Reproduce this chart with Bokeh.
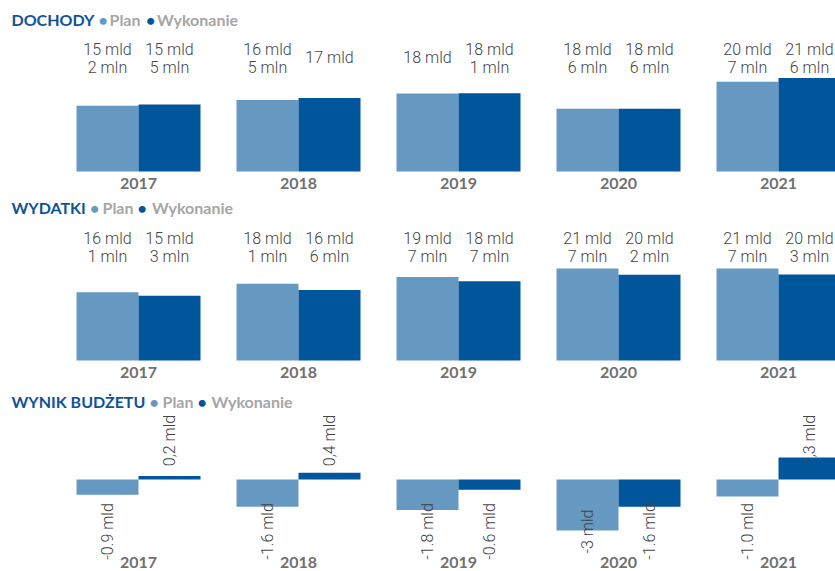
import math
from bokeh.plotting import figure
from bokeh.layouts import column
from bokeh.models import Range1d
from bokeh.core.properties import value
from bokeh.embed import file_html
from bokeh.resources import INLINE

# ---------------- data ----------------
years = ["2017", "2018", "2019", "2020", "2021"]

# DOCHODY (bar heights in mld) and their printed labels
dochody_plan = [15.2, 16.5, 18.0, 14.5, 20.7]
dochody_wyk = [15.5, 17.0, 18.1, 14.5, 21.6]
dochody_plan_labels = ["15 mld\n2 mln", "16 mld\n5 mln", "18 mld", "18 mld\n6 mln", "20 mld\n7 mln"]
dochody_wyk_labels = ["15 mld\n5 mln", "17 mld", "18 mld\n1 mln", "18 mld\n6 mln", "21 mld\n6 mln"]

# WYDATKI
wydatki_plan = [16.1, 18.1, 19.7, 21.7, 21.7]
wydatki_wyk = [15.3, 16.6, 18.7, 20.2, 20.3]
wydatki_plan_labels = ["16 mld\n1 mln", "18 mld\n1 mln", "19 mld\n7 mln", "21 mld\n7 mln", "21 mld\n7 mln"]
wydatki_wyk_labels = ["15 mld\n3 mln", "16 mld\n6 mln", "18 mld\n7 mln", "20 mld\n2 mln", "20 mld\n3 mln"]

# WYNIK BUDŻETU
wynik_plan = [-0.9, -1.6, -1.8, -3.0, -1.0]
wynik_wyk = [0.2, 0.4, -0.6, -1.6, 1.3]
wynik_plan_labels = ["-0.9 mld", "-1.6 mld", "-1.8 mld", "-3 mld", "-1.0 mld"]
wynik_wyk_labels = ["0,2 mld", "0,4 mld", "-0.6 mld", "-1.6 mld", "1,3 mld"]

# ---------------- style / layout ----------------
C_PLAN = "#6699C2"
C_WYK = "#00559B"
C_TITLE = "#0F5298"
C_LEGEND = "#A6A6A6"
C_VALUE = "#444444"
C_YEAR = "#707070"
VALUE_FONT = value("'Roboto Light', Roboto")

W = 835
SX0, SX1 = 0, 835
G0, GSTEP = 138.0, 160.0
BAR_W = 0.3875


def xr(ref_x):
    return (ref_x - G0) / GSTEP


def make_fig(top_ref, H, base_ref, ppu):
    bottom_ref = top_ref + H
    p = figure(width=W, height=H,
               x_range=Range1d(xr(SX0), xr(SX1)),
               y_range=Range1d((base_ref - bottom_ref) / ppu, (base_ref - top_ref) / ppu),
               output_backend="svg", toolbar_location=None, min_border=0,
               x_axis_location=None, y_axis_location=None)
    p.xgrid.visible = False
    p.ygrid.visible = False
    p.outline_line_color = None
    p.background_fill_color = "white"
    p.border_fill_color = "white"
    return p


def add_title(p, base_ref, ppu, baseline_ref, segments):
    yv = (base_ref - baseline_ref) / ppu
    for txt, rx, col in segments:
        p.text(x=[xr(rx)], y=[yv], text=[txt], text_font=value("Lato"),
               text_font_size="16px", text_font_style="bold", text_color=col,
               text_align="left", text_baseline="alphabetic")


def add_bars(p, plan, wyk):
    idx = list(range(len(years)))
    p.vbar(x=[i - BAR_W / 2 for i in idx], top=plan, bottom=0, width=BAR_W,
           fill_color=C_PLAN, line_color=None)
    p.vbar(x=[i + BAR_W / 2 for i in idx], top=wyk, bottom=0, width=BAR_W,
           fill_color=C_WYK, line_color=None)


def add_years(p, ppu, below_px):
    idx = list(range(len(years)))
    p.text(x=idx, y=[-below_px / ppu] * len(idx), text=years, text_font=value("Lato"),
           text_font_size="16px", text_font_style="bold", text_color=C_YEAR,
           text_align="center", text_baseline="alphabetic")


def add_value_labels(p, ppu, plan_labels, wyk_labels):
    xs, ys, ts = [], [], []
    for i, (a, b) in enumerate(zip(plan_labels, wyk_labels)):
        for lab, xc in ((a, i - BAR_W / 2), (b, i + BAR_W / 2)):
            lines = lab.split("\n")
            if len(lines) == 1:
                xs.append(xc); ys.append(114 / ppu); ts.append(lines[0])
            else:
                xs.append(xc); ys.append(122.5 / ppu); ts.append(lines[0])
                xs.append(xc); ys.append(104 / ppu); ts.append(lines[1])
    p.text(x=xs, y=ys, text=ts, text_font=VALUE_FONT, text_font_size="16px",
           text_color=C_VALUE, text_align="center", text_baseline="alphabetic")


# ---------------- DOCHODY ----------------
PPU1 = 4.33
p1 = make_fig(0, 197, 171, PPU1)
add_bars(p1, dochody_plan, dochody_wyk)
add_value_labels(p1, PPU1, dochody_plan_labels, dochody_wyk_labels)
add_years(p1, PPU1, 11.5)
add_title(p1, 171, PPU1, 19, [("DOCHODY", 11, C_TITLE), ("•", 98, C_PLAN), ("Plan", 109, C_LEGEND),
                              ("•", 145.5, C_WYK), ("Wykonanie", 156.5, C_LEGEND)])

# ---------------- WYDATKI ----------------
PPU2 = 4.24
p2 = make_fig(197, 189, 360, PPU2)
add_bars(p2, wydatki_plan, wydatki_wyk)
add_value_labels(p2, PPU2, wydatki_plan_labels, wydatki_wyk_labels)
add_years(p2, PPU2, 12)
add_title(p2, 360, PPU2, 207, [("WYDATKI", 11, C_TITLE), ("•", 89.5, C_PLAN), ("Plan", 102, C_LEGEND),
                               ("•", 137, C_WYK), ("Wykonanie", 151.5, C_LEGEND)])

# ---------------- WYNIK BUDŻETU ----------------
PPU3 = 17.0
p3 = make_fig(386, 185, 479, PPU3)
add_bars(p3, wynik_plan, wynik_wyk)
idx = list(range(len(years)))
rx, ry, rt = [], [], []
for i in idx:
    for v, lab, xc in ((wynik_plan[i], wynik_plan_labels[i], i - BAR_W / 2),
                       (wynik_wyk[i], wynik_wyk_labels[i], i + BAR_W / 2)):
        rx.append(xc)
        ry.append((39 if v >= 0 else -52) / PPU3)
        rt.append(lab)
p3.text(x=rx, y=ry, text=rt, angle=math.pi / 2, text_font=VALUE_FONT,
        text_font_size="16px", text_color=C_VALUE, text_align="center", text_baseline="middle")
add_years(p3, PPU3, 83)
add_title(p3, 479, PPU3, 401, [("WYNIK BUDŻETU", 11, C_TITLE), ("•", 149, C_PLAN), ("Plan", 162, C_LEGEND),
                               ("•", 197, C_WYK), ("Wykonanie", 211, C_LEGEND)])

layout = column(p1, p2, p3, spacing=0)
open("out.html", "w").write(file_html(layout, INLINE))
